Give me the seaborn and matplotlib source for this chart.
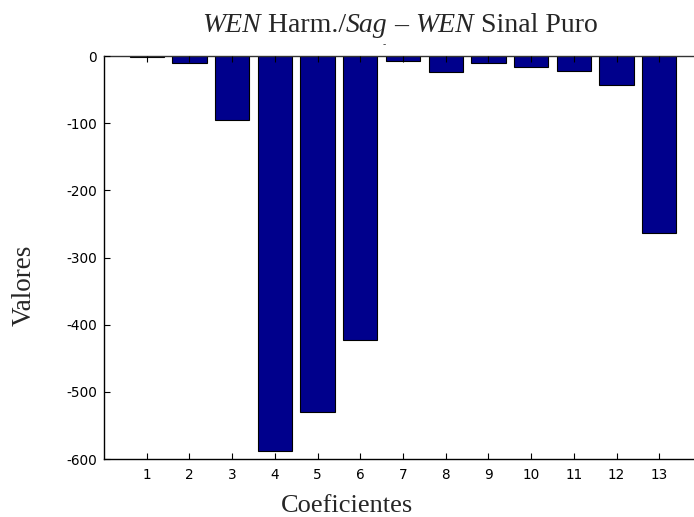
import matplotlib
matplotlib.use("Agg")
import matplotlib.pyplot as plt
import seaborn as sns
import pandas as pd

coeficientes = [1, 2, 3, 4, 5, 6, 7, 8, 9, 10, 11, 12, 13]
valores = [-1.5, -11, -96, -588, -530, -423, -7, -24, -11, -16, -22, -43, -263]
yticks = [0, -100, -200, -300, -400, -500, -600]
title_parts = [("WEN", "italic"), (" Harm./", "normal"), ("Sag", "italic"),
               (" – ", "normal"), ("WEN", "italic"), (" Sinal Puro", "normal")]

sns.set_style("white")
plt.rcParams['font.family'] = ['DejaVu Sans']

df = pd.DataFrame({"Coeficientes": coeficientes, "Valores": valores})

W, H = 694, 517
fig = plt.figure(figsize=(W / 100, H / 100), dpi=100)
ax = fig.add_axes([104 / W, (H - 459) / H, 598 / W, 403 / H])

sns.barplot(data=df, x="Coeficientes", y="Valores", native_scale=True,
            color="#00008C", saturation=1, edgecolor="black", linewidth=0.8,
            width=0.8, ax=ax, errorbar=None)

ax.set_xlim(0, 14)
ax.set_ylim(-600, 0)
ax.set_xticks(coeficientes)
ax.set_xticklabels([str(c) for c in coeficientes])
ax.set_yticks(yticks)
ax.set_yticklabels([str(t) for t in yticks])
ax.set_axisbelow(False)
ax.tick_params(axis="both", direction="in", length=4, width=0.8, labelsize=9.8,
               colors="black", top=True, right=True, bottom=True, left=True)
ax.tick_params(axis="x", pad=6.5)
ax.tick_params(axis="y", pad=5)
for name, s in ax.spines.items():
    s.set_color("black")
    s.set_linewidth(1.0)
    s.set_visible(True)
ax.spines["top"].set_color("#333333")
ax.set_xlabel("")
ax.set_ylabel("")

# axis labels
fig.text(347 / W, 1 - 511.5 / H, "Coeficientes", family="Liberation Serif",
         fontsize=19, ha="center", va="baseline")
fig.text(24 / W, 1 - 285 / H, "Valores", family="Liberation Serif",
         fontsize=19.5, ha="center", va="center", rotation=90)

# title with mixed italic segments
renderer = fig.canvas.get_renderer()
texts = []
for s, st in title_parts:
    t = fig.text(0, 1 - 32 / H, s, family="Liberation Serif", style=st,
                 fontsize=20, va="baseline", ha="left")
    texts.append(t)
widths = [t.get_window_extent(renderer).width for t in texts]
total = sum(widths)
x0 = 400 - total / 2
for t, w in zip(texts, widths):
    t.set_x(x0 / W)
    x0 += w

fig.text(384 / W, 1 - 44 / H, "-", family="Liberation Sans", fontsize=7,
         ha="center", va="center")

fig.savefig("out.png", dpi=100)
